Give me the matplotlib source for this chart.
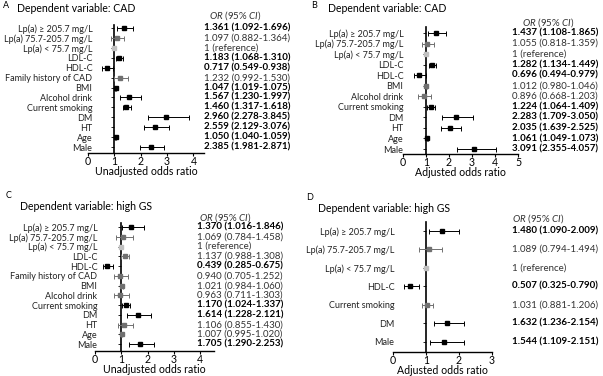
import matplotlib.pyplot as plt
from matplotlib.transforms import blended_transform_factory

plt.rcParams['font.family'] = ['Lato', 'DejaVu Sans']
plt.rcParams['mathtext.fontset'] = 'custom'
plt.rcParams['mathtext.rm'] = 'Lato'
plt.rcParams['mathtext.it'] = 'Lato:italic'

# Row labels
labels_full = ['Lp(a) ≥ 205.7 mg/L', 'Lp(a) 75.7-205.7 mg/L', 'Lp(a) < 75.7 mg/L',
               'LDL-C', 'HDL-C', 'Family history of CAD', 'BMI', 'Alcohol drink',
               'Current smoking', 'DM', 'HT', 'Age', 'Male']
labels_b = ['Lp(a) ≥ 205.7 mg/L', 'Lp(a) 75.7-205.7 mg/L', 'Lp(a) < 75.7 mg/L',
            'LDL-C', 'HDL-C', 'BMI', 'Alcohol drink', 'Current smoking',
            'DM', 'HT', 'Age', 'Male']
labels_d = ['Lp(a) ≥ 205.7 mg/L', 'Lp(a) 75.7-205.7 mg/L', 'Lp(a) < 75.7 mg/L',
            'HDL-C', 'Current smoking', 'DM', 'Male']

# Panel A: CAD, unadjusted
or_a = [1.361, 1.097, 1, 1.183, 0.717, 1.232, 1.047, 1.567, 1.460, 2.960, 2.559, 1.050, 2.385]
lo_a = [1.092, 0.882, 1, 1.068, 0.549, 0.992, 1.019, 1.230, 1.317, 2.278, 2.129, 1.040, 1.981]
hi_a = [1.696, 1.364, 1, 1.310, 0.938, 1.530, 1.075, 1.997, 1.618, 3.845, 3.076, 1.059, 2.871]

# Panel B: CAD, adjusted
or_b = [1.437, 1.055, 1, 1.282, 0.696, 1.012, 0.896, 1.224, 2.283, 2.035, 1.061, 3.091]
lo_b = [1.108, 0.818, 1, 1.134, 0.494, 0.980, 0.668, 1.064, 1.709, 1.639, 1.049, 2.355]
hi_b = [1.865, 1.359, 1, 1.449, 0.979, 1.046, 1.203, 1.409, 3.050, 2.525, 1.073, 4.057]

# Panel C: high GS, unadjusted
or_c = [1.370, 1.069, 1, 1.137, 0.439, 0.940, 1.021, 0.963, 1.170, 1.614, 1.106, 1.007, 1.705]
lo_c = [1.016, 0.784, 1, 0.988, 0.285, 0.705, 0.984, 0.711, 1.024, 1.228, 0.855, 0.995, 1.290]
hi_c = [1.846, 1.458, 1, 1.308, 0.675, 1.252, 1.060, 1.303, 1.337, 2.121, 1.430, 1.020, 2.253]

# Panel D: high GS, adjusted
or_d = [1.480, 1.089, 1, 0.507, 1.031, 1.632, 1.544]
lo_d = [1.090, 0.794, 1, 0.325, 0.881, 1.236, 1.109]
hi_d = [2.009, 1.494, 1, 0.790, 1.206, 2.154, 2.151]

fig = plt.figure(figsize=(6.03, 3.76), dpi=100)
FS_LAB = 6.5  # row labels
FS = 7.0      # OR column
FS_AX = 7.6   # axis ticks / label
FS_T = 7.6    # panel title


def forest(rect, labels, ors, los, his, xmax, xticks, ylim, pad, xlabel,
           letter, title, letter_xy, title_xy, text_x, head_x, head_y):
    ax = fig.add_axes(rect)
    n = len(labels)
    ys = list(range(n))
    tr = blended_transform_factory(fig.transFigure, ax.transData)
    for i in ys:
        ref = ors[i] == 1 and los[i] == 1 and his[i] == 1
        if ref:
            ax.plot(ors[i], i, 's', color='#c0c0c0', ms=2.2, zorder=3)
            txt = '1 (reference)'
            bold = False
        else:
            bold = los[i] > 1 or his[i] < 1
            col = 'black' if bold else '#707070'
            ms = 3.2 if his[i] - los[i] < 0.3 else 2.2
            ax.errorbar(ors[i], i, xerr=[[ors[i] - los[i]], [his[i] - ors[i]]],
                        fmt='s', color=col, ms=ms, elinewidth=0.7,
                        capsize=1.8, capthick=0.7, zorder=3)
            txt = '%.3f (%.3f-%.3f)' % (ors[i], los[i], his[i])
        ax.text(text_x, i, txt, transform=tr, fontsize=FS, va='center', ha='left',
                fontweight='bold' if bold else 'normal',
                color='black' if bold else '#333333', clip_on=False)
    ax.text(head_x, head_y, '$\\it{OR}$ (95% $\\it{CI}$)', transform=tr,
            fontsize=FS, va='center', ha='left', color='#333333')
    ax.set_xlim(0, xmax)
    ax.set_ylim(*ylim)
    ax.set_xticks(xticks)
    ax.set_yticks(ys)
    ax.set_yticklabels(labels)
    ax.spines['top'].set_visible(False)
    ax.spines['right'].set_visible(False)
    ax.spines['left'].set_position(('data', 1))
    ax.spines['left'].set_linewidth(1.2)
    ax.spines['bottom'].set_linewidth(1.0)
    ax.tick_params(axis='y', length=2.5, width=0.6, pad=pad, labelsize=FS_LAB,
                   labelcolor='#222222')
    ax.tick_params(axis='x', length=2, width=0.8, labelsize=FS_AX, pad=0)
    ax.set_xlabel(xlabel, fontsize=FS_AX, labelpad=-0.5)
    fig.text(letter_xy[0], letter_xy[1], letter, fontsize=6.5, va='center')
    fig.text(title_xy[0], title_xy[1], title, fontsize=FS_T, va='center')
    return ax


W, H = 603, 376

forest([88 / W, 1 - 153 / H, 116 / W, 128 / H], labels_full, or_a, lo_a, hi_a,
       4.4, [0, 1, 2, 3, 4], (12.6, -0.3), 13.3, 'Unadjusted odds ratio',
       'A', 'Dependent variable: CAD', (3 / W, 1 - 6 / H), (17 / W, 1 - 9 / H),
       204 / W, 209 / W, -1.2)

forest([403 / W, 1 - 154 / H, 115 / W, 127 / H], labels_b, or_b, lo_b, hi_b,
       5, [0, 1, 2, 3, 4, 5], (11.47, -0.57), 13.8, 'Adjusted odds ratio',
       'B', 'Dependent variable: CAD', (311 / W, 1 - 6 / H), (328 / W, 1 - 9 / H),
       512 / W, 522 / W, -0.95)

forest([95 / W, 1 - 351 / H, 118.5 / W, 128 / H], labels_full, or_c, lo_c, hi_c,
       4.5, [0, 1, 2, 3, 4], (12.7, -0.41), 14.8, 'Unadjusted odds ratio',
       'C', 'Dependent variable: high GS', (6 / W, 1 - 196 / H), (20 / W, 1 - 206 / H),
       197 / W, 199 / W, -1.0)

forest([393 / W, 1 - 352 / H, 99 / W, 130 / H], labels_d, or_d, lo_d, hi_d,
       3, [0, 1, 2, 3], (6.56, -0.49), 20.3, 'Adjusted odds ratio',
       'D', 'Dependent variable: high GS', (306 / W, 1 - 198 / H), (318 / W, 1 - 208 / H),
       512 / W, 512 / W, -0.65)

fig.savefig('out.png', dpi=100)
